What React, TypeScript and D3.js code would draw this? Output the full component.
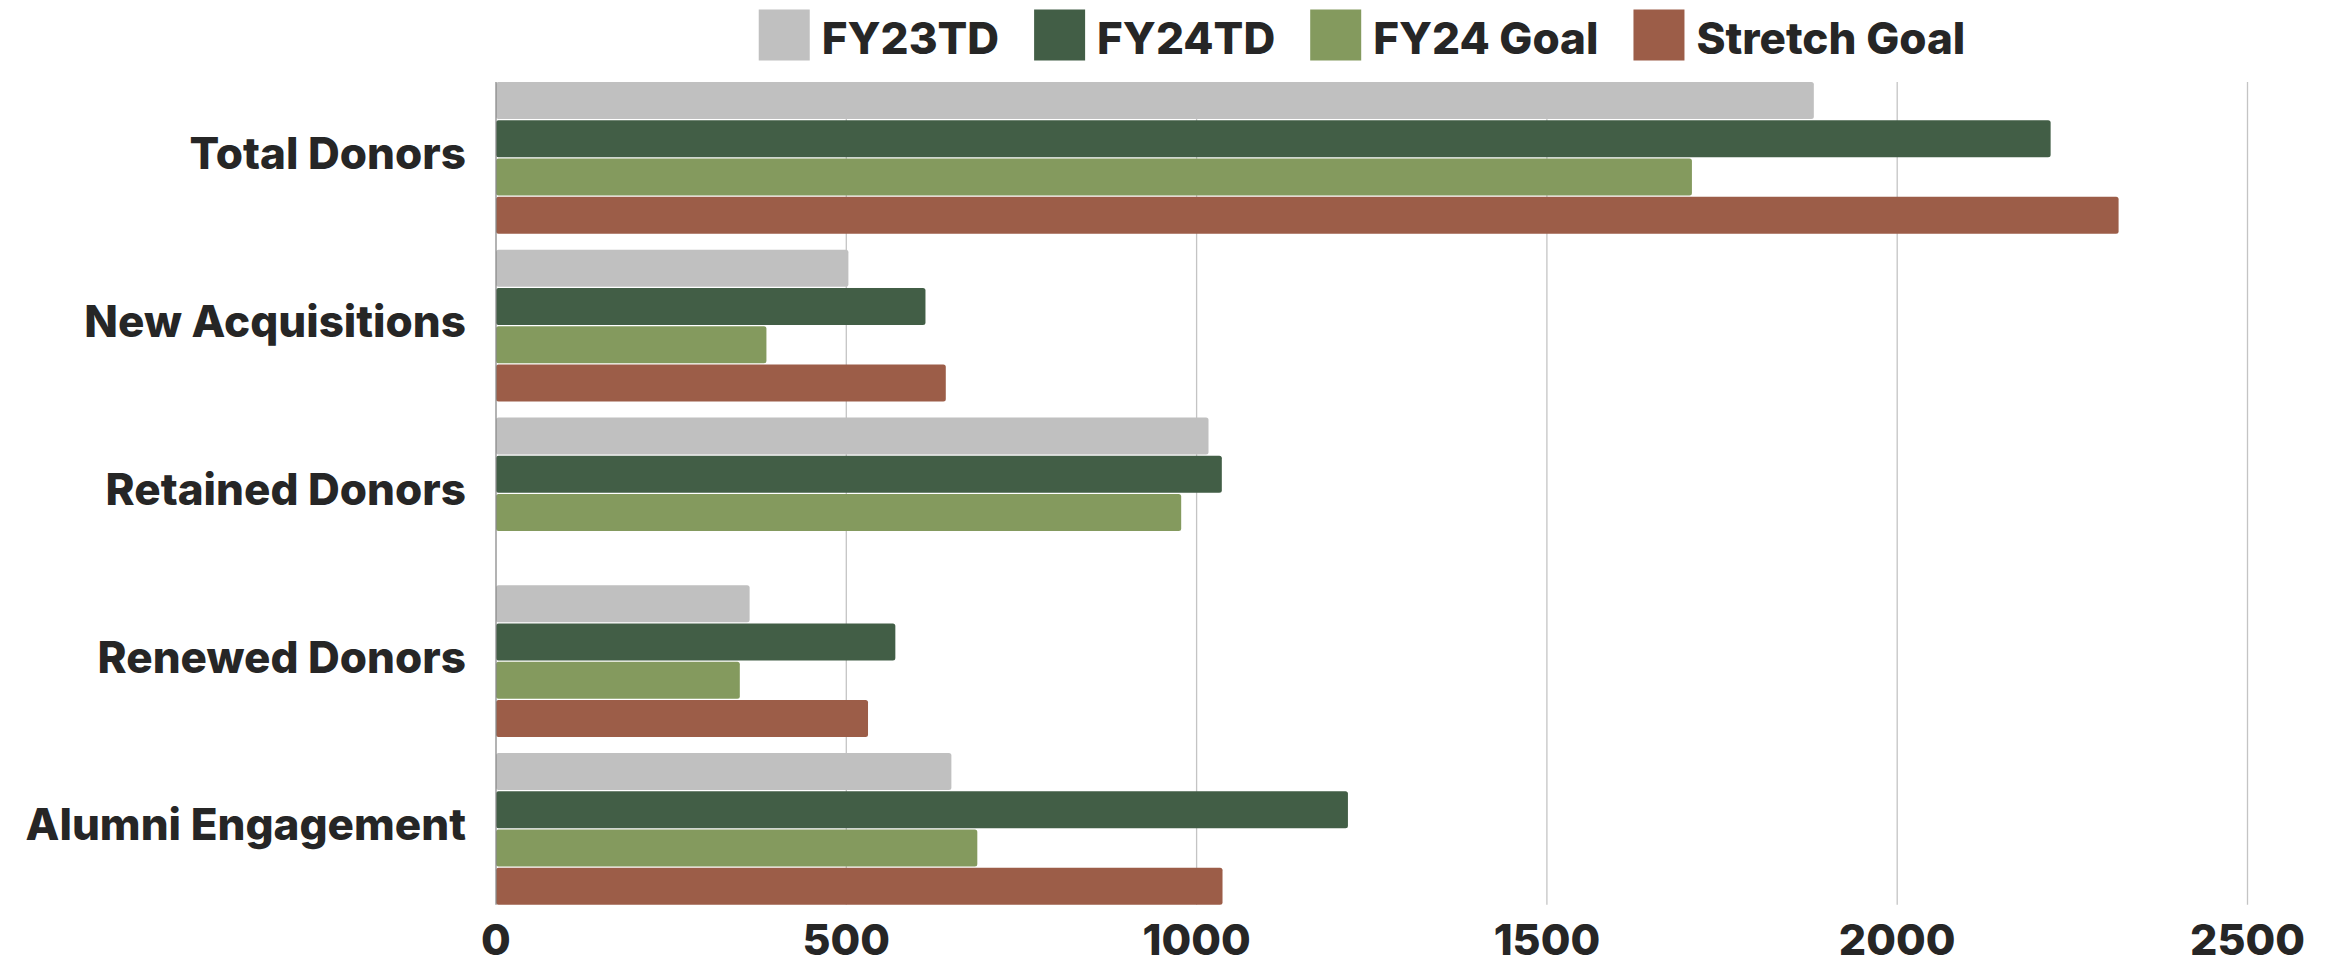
import React, { useLayoutEffect, useRef, useState } from 'react';
import * as d3 from 'd3';

const categories = ['Total Donors', 'New Acquisitions', 'Retained Donors', 'Renewed Donors', 'Alumni Engagement'];
const seriesNames = ['FY23TD', 'FY24TD', 'FY24 Goal', 'Stretch Goal'];
const fy23td = [1881, 503, 1017, 362, 650];
const fy24td = [2219, 613, 1036, 570, 1216];
const fy24Goal = [1707, 386, 978, 348, 687];
const stretchGoal: (number | null)[] = [2316, 642, null, 531, 1037];
const xTicks = [0, 500, 1000, 1500, 2000, 2500];
const seriesColors = ['#c0c0c0', '#425e46', '#849a5e', '#9c5d48'];

const W = 2328;
const H = 964;
const FONT = "Inter, 'Open Sans', sans-serif";
const TEXT = '#262626';

export default function App() {
  const series = [fy23td, fy24td, fy24Goal, stretchGoal];
  const x = d3.scaleLinear().domain([0, 2500]).range([496, 2247.5]);
  const y = d3
    .scaleBand<string>()
    .domain(categories)
    .range([74, 912.8])
    .paddingInner(0.0963)
    .paddingOuter(0.04815);
  const inner = d3
    .scaleBand<string>()
    .domain(seriesNames)
    .range([0, y.bandwidth()])
    .paddingInner(0.035);

  const gridTop = y(categories[0])!;
  const gridBottom = y(categories[categories.length - 1])! + y.bandwidth();

  const legendRefs = useRef<(SVGTextElement | null)[]>([]);
  const [textWidths, setTextWidths] = useState<number[]>([158, 159, 215, 258]);
  useLayoutEffect(() => {
    const w = legendRefs.current.map((t, i) => (t ? t.getComputedTextLength() : textWidths[i]));
    if (w.some((v, i) => Math.abs(v - textWidths[i]) > 0.5)) setTextWidths(w);
  });

  const sw = 51;
  const swGap = 12;
  const itemGap = 35;
  const totalLegend = textWidths.reduce((a, b) => a + b, 0) + seriesNames.length * (sw + swGap) + (seriesNames.length - 1) * itemGap;
  const legendCenter = 1362;
  let cursor = legendCenter - totalLegend / 2;
  const legendItems = seriesNames.map((name, i) => {
    const start = cursor;
    cursor += sw + swGap + textWidths[i] + itemGap;
    return { name, start, color: seriesColors[i] };
  });

  return (
    <svg
      width={W}
      height={H}
      style={{ position: 'absolute', left: 0, top: 0, display: 'block', background: '#ffffff' }}
      fontFamily={FONT}
    >
      <rect x={0} y={0} width={W} height={H} fill="#ffffff" />
      {/* gridlines */}
      {xTicks.filter((t) => t > 0).map((t) => (
        <line key={t} x1={x(t)} x2={x(t)} y1={gridTop} y2={gridBottom} stroke="#c4c4c4" strokeWidth={1.3} />
      ))}
      {/* bars */}
      {categories.map((c, ci) => (
        <g key={c} transform={`translate(0,${y(c)})`}>
          {seriesNames.map((s, si) => {
            const v = series[si][ci];
            if (v == null) return null;
            return (
              <rect
                key={s}
                x={x(0)}
                y={inner(s)}
                width={x(v) - x(0)}
                height={inner.bandwidth()}
                rx={2.5}
                fill={seriesColors[si]}
              />
            );
          })}
        </g>
      ))}
      {/* axis line */}
      <line x1={x(0)} x2={x(0)} y1={gridTop} y2={gridBottom} stroke="#8a8a8a" strokeWidth={1.3} />
      {/* category labels */}
      {categories.map((c) => (
        <text
          key={c}
          x={466}
          y={y(c)! + y.bandwidth() / 2 + 11.5}
          textAnchor="end"
          fontSize={44}
          fontWeight={800}
          fill={TEXT}
        >
          {c}
        </text>
      ))}
      {/* x tick labels */}
      {xTicks.map((t) => (
        <text key={t} x={x(t)} y={955} textAnchor="middle" fontSize={43} fontWeight={800} fill={TEXT}>
          {t}
        </text>
      ))}
      {/* legend */}
      {legendItems.map((it, i) => (
        <g key={it.name}>
          <rect x={it.start} y={9.5} width={sw} height={51} fill={it.color} />
          <text
            ref={(el) => {
              legendRefs.current[i] = el;
            }}
            x={it.start + sw + swGap}
            y={54}
            fontSize={44}
            fontWeight={800}
            fill={TEXT}
          >
            {it.name}
          </text>
        </g>
      ))}
    </svg>
  );
}
